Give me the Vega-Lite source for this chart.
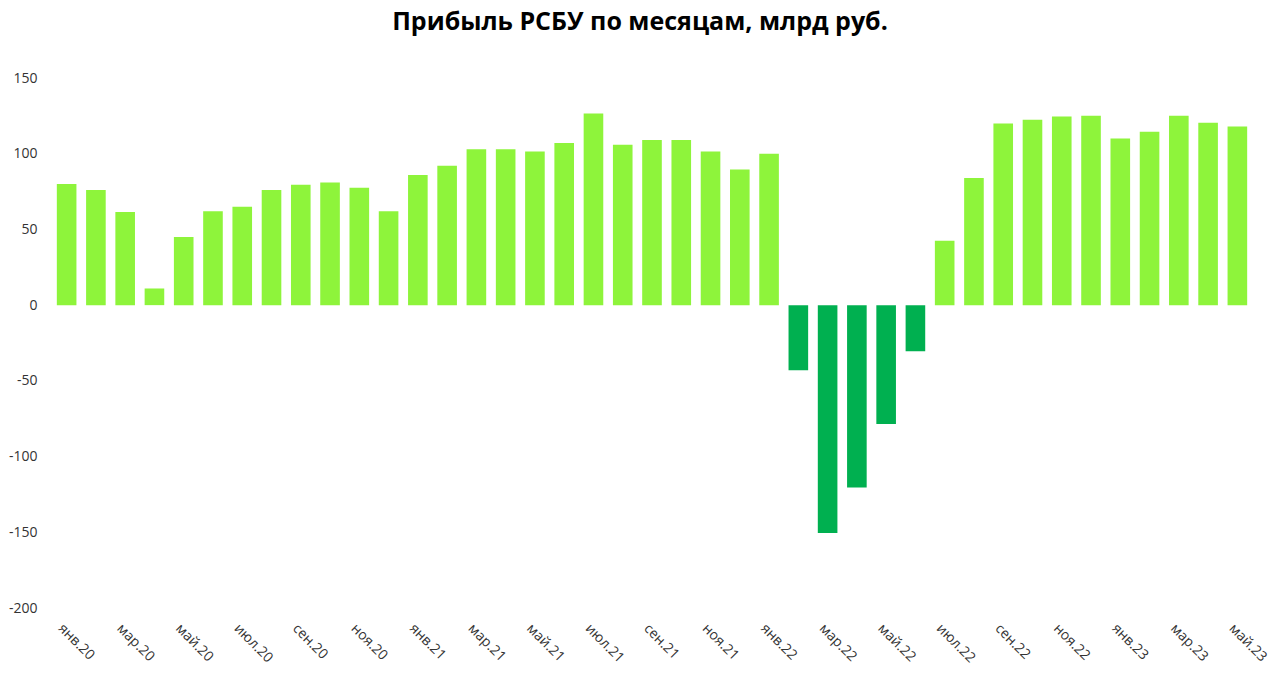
{
  "$schema": "https://vega.github.io/schema/vega-lite/v6.json",
  "autosize": {"type": "none"},
  "width": 1200,
  "height": 530,
  "padding": {"left": 52, "top": 78, "right": 28, "bottom": 78},
  "background": "white",
  "title": {
    "text": "Прибыль РСБУ по месяцам, млрд руб.",
    "fontSize": 25,
    "fontWeight": "bold",
    "font": "Open Sans",
    "color": "#000000",
    "anchor": "middle",
    "dx": -12,
    "offset": 36
  },
  "config": {
    "view": {"stroke": null},
    "axis": {"labelFont": "Open Sans", "labelColor": "#333333", "labelFontSize": 14}
  },
  "data": {
    "values": [
      {"m": "янв.20", "v": 80},
      {"m": "фев.20", "v": 76},
      {"m": "мар.20", "v": 61.5},
      {"m": "апр.20", "v": 11},
      {"m": "май.20", "v": 45},
      {"m": "июн.20", "v": 62},
      {"m": "июл.20", "v": 65},
      {"m": "авг.20", "v": 76},
      {"m": "сен.20", "v": 79.5},
      {"m": "окт.20", "v": 81},
      {"m": "ноя.20", "v": 77.5},
      {"m": "дек.20", "v": 62},
      {"m": "янв.21", "v": 86},
      {"m": "фев.21", "v": 92},
      {"m": "мар.21", "v": 103},
      {"m": "апр.21", "v": 103},
      {"m": "май.21", "v": 101.5},
      {"m": "июн.21", "v": 107},
      {"m": "июл.21", "v": 126.5},
      {"m": "авг.21", "v": 106},
      {"m": "сен.21", "v": 109},
      {"m": "окт.21", "v": 109},
      {"m": "ноя.21", "v": 101.5},
      {"m": "дек.21", "v": 89.5},
      {"m": "янв.22", "v": 100},
      {"m": "фев.22", "v": -43},
      {"m": "мар.22", "v": -150.5},
      {"m": "апр.22", "v": -120.5},
      {"m": "май.22", "v": -78.5},
      {"m": "июн.22", "v": -30.5},
      {"m": "июл.22", "v": 42.5},
      {"m": "авг.22", "v": 84},
      {"m": "сен.22", "v": 120},
      {"m": "окт.22", "v": 122.5},
      {"m": "ноя.22", "v": 124.5},
      {"m": "дек.22", "v": 125},
      {"m": "янв.23", "v": 110},
      {"m": "фев.23", "v": 114.5},
      {"m": "мар.23", "v": 125},
      {"m": "апр.23", "v": 120.5},
      {"m": "май.23", "v": 118}
    ]
  },
  "mark": {"type": "bar"},
  "encoding": {
    "x": {
      "field": "m",
      "type": "ordinal",
      "sort": null,
      "scale": {"paddingInner": 0.33, "paddingOuter": 0.165},
      "axis": {
        "title": null,
        "domain": false,
        "ticks": false,
        "labelAngle": 45,
        "labelAlign": "left",
        "labelBaseline": "middle",
        "labelPadding": 18,
        "labelOffset": -6,
        "values": ["янв.20","мар.20","май.20","июл.20","сен.20","ноя.20","янв.21","мар.21","май.21","июл.21","сен.21","ноя.21","янв.22","мар.22","май.22","июл.22","сен.22","ноя.22","янв.23","мар.23","май.23"]
      }
    },
    "y": {
      "field": "v",
      "type": "quantitative",
      "scale": {"domain": [-200, 150], "nice": false},
      "axis": {
        "title": null,
        "domain": false,
        "ticks": false,
        "grid": false,
        "values": [-200, -150, -100, -50, 0, 50, 100, 150],
        "labelExpr": "toString(datum.value)",
        "labelPadding": 15
      }
    },
    "color": {
      "condition": {"test": "datum.v < 0", "value": "#00b050"},
      "value": "#8ef43b"
    }
  }
}
